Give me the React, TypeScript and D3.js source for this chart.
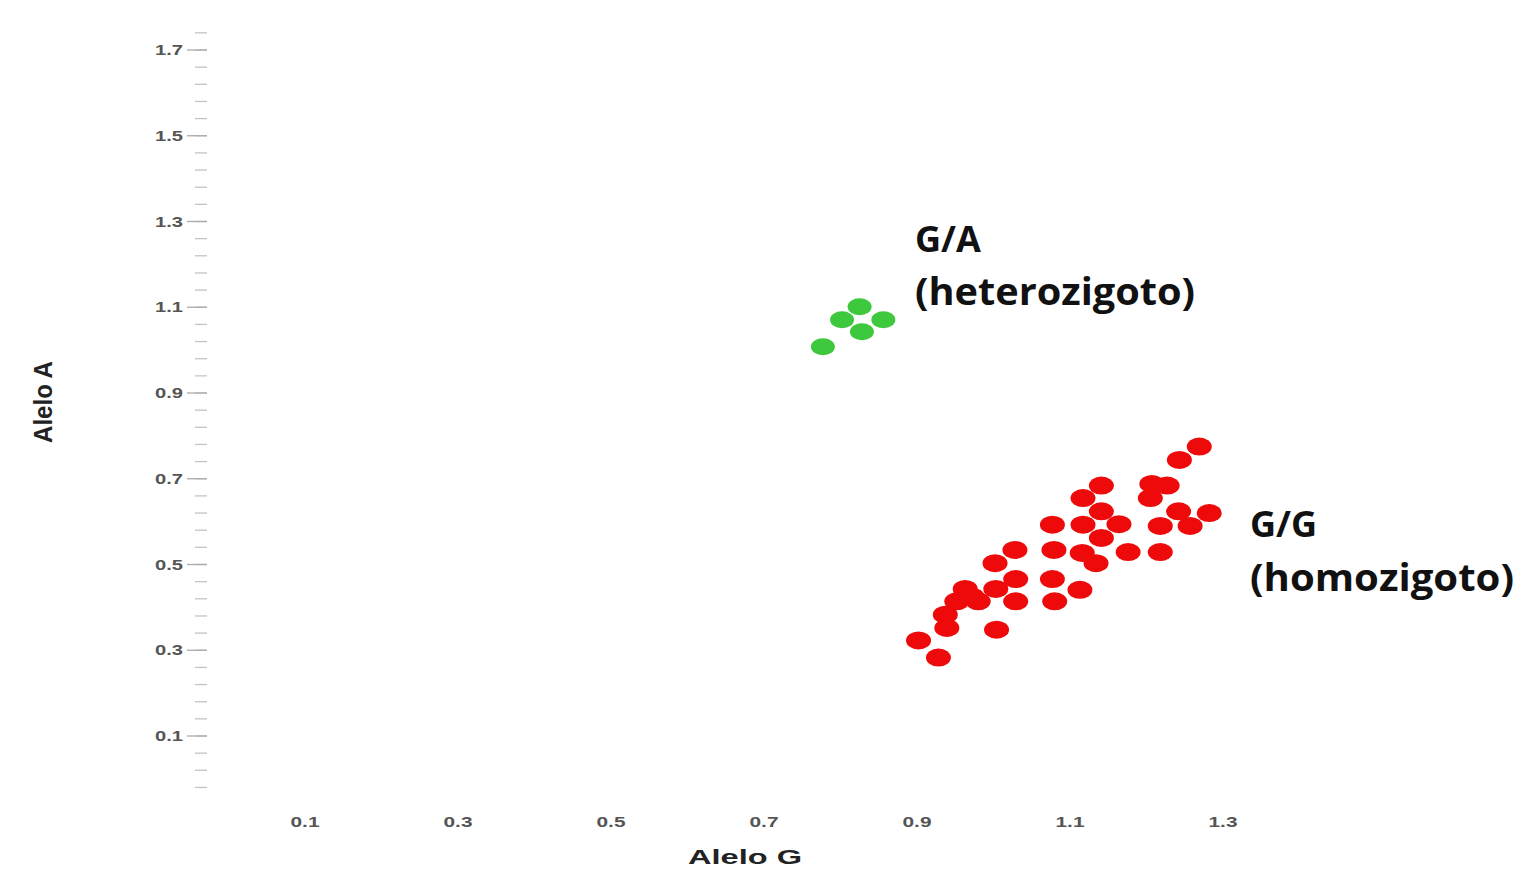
import React from "react";
import * as d3 from "d3";

const width = 1519;
const height = 869;

// heterozygous G/A cluster (Alelo G, Alelo A)
const heteroG = [0.825, 0.802, 0.856, 0.828, 0.777];
const heteroA = [1.101, 1.071, 1.071, 1.043, 1.008];

// homozygous G/G cluster
const homoG = [
  1.269, 1.243, 1.141, 1.207, 1.227, 1.117, 1.205, 1.141, 1.242, 1.282,
  1.077, 1.117, 1.164, 1.218, 1.257, 1.141, 1.028, 1.079, 1.116, 1.176,
  1.218, 1.134, 1.002, 1.029, 1.077, 0.963, 1.003, 1.113, 0.952, 0.98,
  1.029, 1.08, 0.937, 0.939, 1.004, 0.902, 0.928, 0.972,
];
const homoA = [
  0.775, 0.744, 0.684, 0.688, 0.684, 0.655, 0.655, 0.624, 0.624, 0.62,
  0.593, 0.593, 0.594, 0.59, 0.59, 0.562, 0.534, 0.534, 0.527, 0.529,
  0.529, 0.503, 0.503, 0.466, 0.466, 0.443, 0.443, 0.441, 0.414, 0.414,
  0.414, 0.414, 0.383, 0.352, 0.348, 0.323, 0.283, 0.425,
];

const xTickLabels = ["0.1", "0.3", "0.5", "0.7", "0.9", "1.1", "1.3"];
const yTickLabels = ["0.1", "0.3", "0.5", "0.7", "0.9", "1.1", "1.3", "1.5", "1.7"];
const yMinorStart = -0.02;
const yMinorEnd = 1.74;
const yMinorStep = 0.04;

const xScale = d3.scaleLinear().domain([0.1, 1.3]).range([305, 1223]);
const yScale = d3.scaleLinear().domain([0.1, 1.7]).range([736, 50]);

const axisX = 207;

const App = () => {
  const hetero = heteroG.map((g, i) => ({ g, a: heteroA[i] }));
  const homo = homoG.map((g, i) => ({ g, a: homoA[i] }));
  const minor = d3.range(yMinorStart, yMinorEnd + 0.001, yMinorStep);

  return (
    <svg
      width={width}
      height={height}
      style={{ position: "absolute", left: 0, top: 0, display: "block", background: "#fff" }}
    >
      {/* y axis minor ticks */}
      {minor.map((v, i) => (
        <line
          key={"m" + i}
          x1={axisX - 12}
          x2={axisX}
          y1={yScale(v)}
          y2={yScale(v)}
          stroke="#c4c4c4"
          strokeWidth={1.3}
        />
      ))}
      {/* y axis major ticks and labels */}
      {yTickLabels.map((t) => (
        <g key={"y" + t} transform={`translate(0,${yScale(+t)})`}>
          <line x1={axisX - 20} x2={axisX} stroke="#aaa" strokeWidth={1.3} />
          <text
            x={183}
            dy="0.36em"
            textAnchor="end"
            fontFamily="Liberation Sans, Arial, sans-serif"
            fontWeight="bold"
            fontSize={14}
            fill="#555"
            textLength={28}
            lengthAdjust="spacingAndGlyphs"
          >
            {t}
          </text>
        </g>
      ))}
      {/* x axis labels */}
      {xTickLabels.map((t) => (
        <text
          key={"x" + t}
          x={xScale(+t)}
          y={827}
          textAnchor="middle"
          fontFamily="Liberation Sans, Arial, sans-serif"
          fontWeight="bold"
          fontSize={14}
          fill="#555"
          textLength={29}
          lengthAdjust="spacingAndGlyphs"
        >
          {t}
        </text>
      ))}

      {/* points */}
      {homo.map((d, i) => (
        <ellipse
          key={"r" + i}
          cx={xScale(d.g)}
          cy={yScale(d.a)}
          rx={12.5}
          ry={9}
          fill="#ee0a0a"
        />
      ))}
      {hetero.map((d, i) => (
        <ellipse
          key={"g" + i}
          cx={xScale(d.g)}
          cy={yScale(d.a)}
          rx={12}
          ry={8.5}
          fill="#3ec83e"
        />
      ))}

      {/* axis titles */}
      <text
        x={745}
        y={864}
        textAnchor="middle"
        fontFamily="Liberation Sans, Arial, sans-serif"
        fontWeight="bold"
        fontSize={20}
        fill="#222"
        textLength={114}
        lengthAdjust="spacingAndGlyphs"
      >
        Alelo G
      </text>
      <text
        transform="translate(52,402) rotate(-90)"
        textAnchor="middle"
        fontFamily="Liberation Sans, Arial, sans-serif"
        fontWeight="bold"
        fontSize={26}
        fill="#222"
        textLength={82}
        lengthAdjust="spacingAndGlyphs"
      >
        Alelo A
      </text>

      {/* cluster annotations */}
      <g fontFamily="Open Sans, Noto Sans, sans-serif" fontWeight="bold" fill="#111">
        <text x={915} y={252} fontSize={36}>G/A</text>
        <text x={915} y={305} fontSize={38} textLength={280} lengthAdjust="spacingAndGlyphs">
          (heterozigoto)
        </text>
        <text x={1250} y={537} fontSize={36}>G/G</text>
        <text x={1250} y={591} fontSize={38} textLength={264} lengthAdjust="spacingAndGlyphs">
          (homozigoto)
        </text>
      </g>
    </svg>
  );
};

export default App;
